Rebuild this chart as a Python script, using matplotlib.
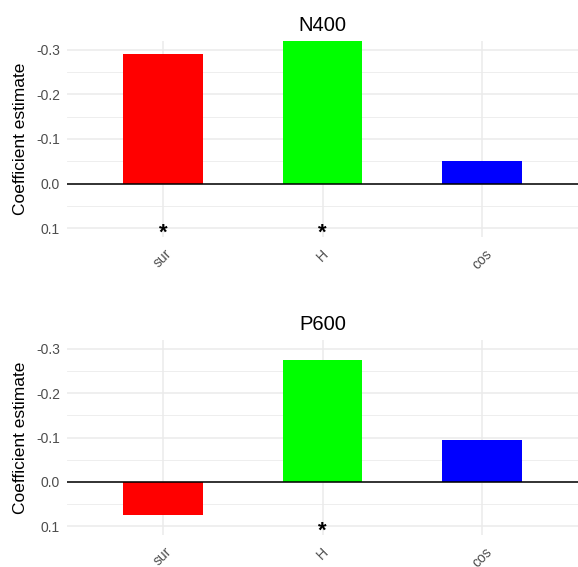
import matplotlib
matplotlib.use("Agg")
import matplotlib.pyplot as plt

plt.rcParams['font.family'] = ['Liberation Sans', 'DejaVu Sans']

# ======================================
# Data
# ======================================

categories = ['sur', 'H', 'cos']
bar_colors = ['#ff0000', '#00ff00', '#0000ff']

n400_values = [-0.29, -0.32, -0.05]
p600_values = [0.075, -0.275, -0.095]

n400_signif = ['*', '*', '']
p600_signif = ['', '*', '']

star_y = 0.1

y_ticks = [-0.3, -0.2, -0.1, 0.0, 0.1]
y_tick_labels = ['-0.3', '-0.2', '-0.1', '0.0', '0.1']
y_minor = [-0.25, -0.15, -0.05, 0.05]

panels = [
    ('N400', n400_values, n400_signif),
    ('P600', p600_values, p600_signif),
]

# ======================================
# Figure
# ======================================

fig = plt.figure(figsize=(5.78, 5.67), dpi=100)

axes_pos = [
    [67 / 578, 1 - 237 / 567, 511 / 578, 196 / 567],
    [67 / 578, 1 - 535 / 567, 511 / 578, 195 / 567],
]

grid_col = '#ebebeb'

for pos, (title, values, signif) in zip(axes_pos, panels):
    ax = fig.add_axes(pos)
    x = list(range(len(categories)))

    ax.bar(x, values, width=0.5, color=bar_colors, zorder=2)
    ax.axhline(0, color='black', linewidth=1.1, zorder=3)

    for xi, s in zip(x, signif):
        if s:
            ax.annotate(s, (xi, star_y), xytext=(0, -2), textcoords='offset points',
                        ha='center', va='center_baseline', fontweight='bold',
                        fontsize=16, color='black', zorder=4)

    ax.set_xlim(-0.6, len(categories) - 0.4)
    ax.set_ylim(0.12, -0.32)

    ax.set_yticks(y_ticks)
    ax.set_yticklabels(y_tick_labels)
    ax.set_yticks(y_minor, minor=True)
    ax.set_xticks(x)
    ax.set_xticklabels(categories, rotation=45, ha='center', va='top')

    ax.grid(True, which='major', color=grid_col, linewidth=1.1, zorder=0)
    ax.grid(True, which='minor', axis='y', color=grid_col, linewidth=0.6, zorder=0)
    ax.set_axisbelow(True)

    for sp in ax.spines.values():
        sp.set_visible(False)
    ax.tick_params(which='both', length=0, labelsize=10, labelcolor='#4d4d4d')
    ax.tick_params(axis='x', pad=7)
    ax.tick_params(axis='y', pad=5)

    ax.set_ylabel('Coefficient estimate', fontsize=12.5, color='black', labelpad=6)
    ax.set_title(title, fontsize=14.5, color='black', pad=7)

fig.savefig('out.png', dpi=100)
plt.close(fig)
